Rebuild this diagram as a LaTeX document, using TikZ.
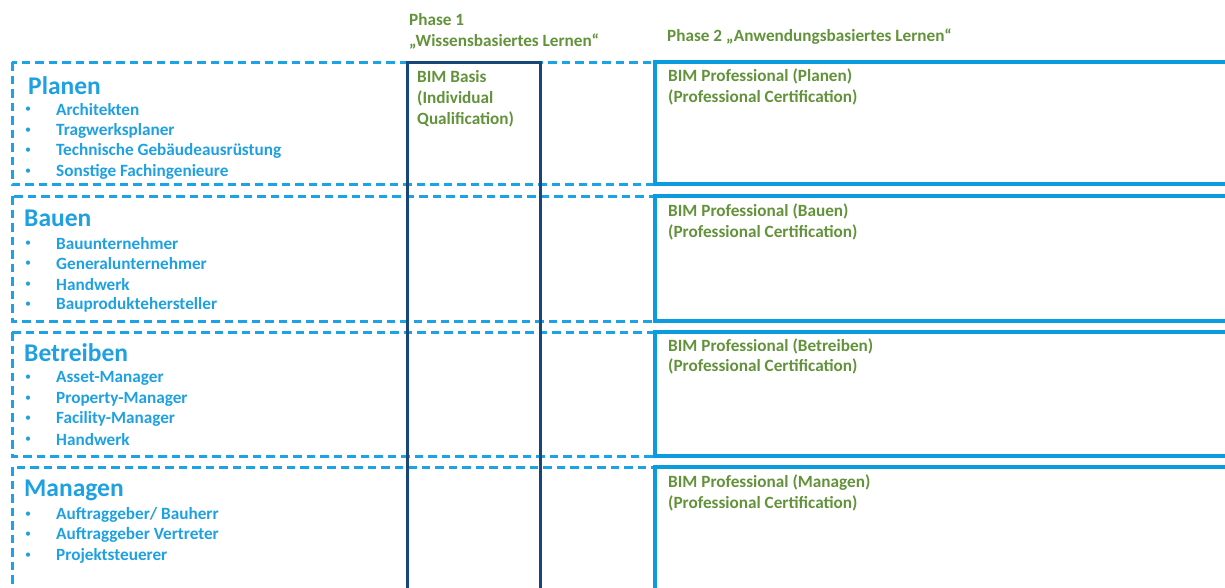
\documentclass[tikz,border=0pt]{standalone}
\usepackage{fontspec}
\setmainfont{Carlito}
\definecolor{dashblue}{RGB}{27,163,229}
\definecolor{txtblue}{RGB}{30,160,225}
\definecolor{boxblue}{RGB}{10,156,222}
\definecolor{darkcol}{RGB}{25,70,120}
\definecolor{greentxt}{RGB}{98,146,58}
\begin{document}
\begin{tikzpicture}[x=1pt,y=-1pt,
  rowbox/.style={draw=dashblue,line width=3pt,dash pattern=on 8.5pt off 5pt},
  probox/.style={draw=boxblue,line width=3.4pt},
  colbox/.style={draw=darkcol,line width=3pt},
  head/.style={anchor=west,inner sep=0pt,text=txtblue,font=\fontsize{25.5}{30}\selectfont\bfseries},
  item/.style={anchor=west,inner sep=0pt,text=txtblue,font=\fontsize{17.2}{20}\selectfont\bfseries},
  bul/.style={anchor=west,inner sep=0pt,text=txtblue,font=\fontsize{12}{14}\selectfont},
  gtxt/.style={anchor=west,inner sep=0pt,text=greentxt,font=\fontsize{17.2}{20}\selectfont\bfseries}]
\useasboundingbox (0,0) rectangle (1225,587);
% dashed rows
\draw[rowbox] (12,62) rectangle (655,184);
\draw[rowbox] (12,196) rectangle (655,321);
\draw[rowbox] (12,332) rectangle (655,456);
\draw[rowbox] (12,467) rectangle (655,600);
% solid phase 2 boxes
\draw[probox] (655,62) rectangle (1240,184);
\draw[probox] (655,196) rectangle (1240,321);
\draw[probox] (655,332) rectangle (1240,456);
\draw[probox] (655,467) rectangle (1240,600);
% phase 1 column
\draw[colbox] (407,62) rectangle (540,600);
% headings
\node[gtxt] (ph1a) at (409,20) {Phase 1};
\node[gtxt] (ph1b) at (409,41) {„Wissensbasiertes Lernen“};
\node[gtxt] (ph2) at (667,37) {Phase 2 „Anwendungsbasiertes Lernen“};
% phase 1 box text
\node[gtxt] (bb1) at (417,77) {BIM Basis};
\node[gtxt] (bb2) at (417,98) {(Individual};
\node[gtxt] (bb3) at (417,119) {Qualification)};
% row 1
\node[head] (h1) at (28,86) {Planen};
\foreach \t/\y [count=\i] in {Architekten/110,Tragwerksplaner/131,Technische Gebäudeausrüstung/151,Sonstige Fachingenieure/172}{
  \node[bul] (b1\i) at (25,\y) {•};
  \node[item] (i1\i) at (56,\y) {\t};
}
\node[gtxt] (p1a) at (668,76) {BIM Professional (Planen)};
\node[gtxt] (p1b) at (668,97) {(Professional Certification)};
% row 2
\node[head] (h2) at (24,218) {Bauen};
\foreach \t/\y [count=\i] in {Bauunternehmer/244,Generalunternehmer/264,Handwerk/285,Bauproduktehersteller/305}{
  \node[bul] (b2\i) at (25,\y) {•};
  \node[item] (i2\i) at (56,\y) {\t};
}
\node[gtxt] (p2a) at (668,211) {BIM Professional (Bauen)};
\node[gtxt] (p2b) at (668,232) {(Professional Certification)};
% row 3
\node[head] (h3) at (24,353) {Betreiben};
\foreach \t/\y [count=\i] in {Asset-Manager/378,Property-Manager/399,Facility-Manager/419,Handwerk/440}{
  \node[bul] (b3\i) at (25,\y) {•};
  \node[item] (i3\i) at (56,\y) {\t};
}
\node[gtxt] (p3a) at (668,346) {BIM Professional (Betreiben)};
\node[gtxt] (p3b) at (668,366) {(Professional Certification)};
% row 4
\node[head] (h4) at (24,490) {Managen};
\node[bul] (b41) at (25,515) {•};
\node[item] (i41) at (56,515) {Auftraggeber/ Bauherr};
\node[bul] (b42) at (25,535) {•};
\node[item] (i42) at (56,535) {Auftraggeber Vertreter};
\node[bul] (b43) at (25,556) {•};
\node[item] (i43) at (56,556) {Projektsteuerer};
\node[gtxt] (p4a) at (668,483) {BIM Professional (Managen)};
\node[gtxt] (p4b) at (668,503) {(Professional Certification)};
\end{tikzpicture}
\end{document}
